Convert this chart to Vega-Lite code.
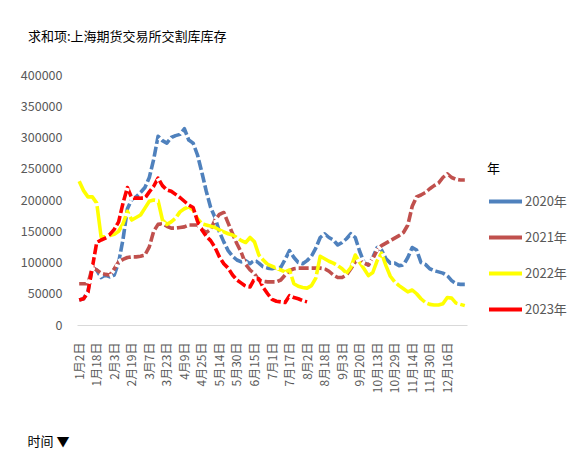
{
  "$schema": "https://vega.github.io/schema/vega-lite/v6.json",
  "autosize": {"type": "none"},
  "width": 390,
  "height": 250,
  "padding": {"left": 77, "top": 75, "right": 107, "bottom": 146},
  "background": "#ffffff",
  "config": {
    "font": "Noto Sans CJK SC",
    "view": {"stroke": null}
  },
  "title": {
    "text": "求和项:上海期货交易所交割库库存",
    "anchor": "start",
    "frame": "group",
    "dx": -49,
    "offset": 12,
    "baseline": "bottom",
    "fontSize": 13,
    "fontWeight": "normal",
    "color": "#000000"
  },
  "data": {
    "values": [
      {"d": "1月2日", "2020年": 40000, "2021年": 66000, "2022年": 230000, "2023年": 40000},
      {"d": "1月6日", "2020年": 42000, "2021年": 66000, "2022年": 215000, "2023年": 42000},
      {"d": "1月10日", "2020年": 54000, "2021年": 66000, "2022年": 205000, "2023年": 52000},
      {"d": "1月14日", "2020年": 92000, "2021年": 92000, "2022年": 205000, "2023年": 92000},
      {"d": "1月18日", "2020年": 88000, "2021年": 88000, "2022年": 195000, "2023年": 132000},
      {"d": "1月22日", "2020年": 76000, "2021年": 83000, "2022年": 141000, "2023年": 136000},
      {"d": "1月26日", "2020年": 80000, "2021年": 81000, "2022年": 141000, "2023年": 139000},
      {"d": "1月30日", "2020年": 77000, "2021年": 80000, "2022年": 143000, "2023年": 145000},
      {"d": "2月3日", "2020年": 80000, "2021年": 90000, "2022年": 145000, "2023年": 153000},
      {"d": "2月7日", "2020年": 100000, "2021年": 101000, "2022年": 150000, "2023年": 165000},
      {"d": "2月11日", "2020年": 137000, "2021年": 105000, "2022年": 162000, "2023年": 195000},
      {"d": "2月15日", "2020年": 186000, "2021年": 108000, "2022年": 182000, "2023年": 220000},
      {"d": "2月19日", "2020年": 201000, "2021年": 109000, "2022年": 168000, "2023年": 203000},
      {"d": "2月23日", "2020年": 205000, "2021年": 109000, "2022年": 172000, "2023年": 203000},
      {"d": "2月27日", "2020年": 212000, "2021年": 110000, "2022年": 176000, "2023年": 203000},
      {"d": "3月3日", "2020年": 220000, "2021年": 112000, "2022年": 187000, "2023年": 203000},
      {"d": "3月7日", "2020年": 236000, "2021年": 125000, "2022年": 198000, "2023年": 213000},
      {"d": "3月11日", "2020年": 265000, "2021年": 150000, "2022年": 200000, "2023年": 222000},
      {"d": "3月15日", "2020年": 302000, "2021年": 161000, "2022年": 199000, "2023年": 235000},
      {"d": "3月19日", "2020年": 295000, "2021年": 162000, "2022年": 168000, "2023年": 223000},
      {"d": "3月23日", "2020年": 291000, "2021年": 158000, "2022年": 161000, "2023年": 216000},
      {"d": "3月27日", "2020年": 300000, "2021年": 155000, "2022年": 165000, "2023年": 214000},
      {"d": "3月31日", "2020年": 303000, "2021年": 155000, "2022年": 171000, "2023年": 209000},
      {"d": "4月5日", "2020年": 305000, "2021年": 156000, "2022年": 181000, "2023年": 204000},
      {"d": "4月9日", "2020年": 314000, "2021年": 157000, "2022年": 186000, "2023年": 198000},
      {"d": "4月13日", "2020年": 296000, "2021年": 160000, "2022年": 189000, "2023年": 192000},
      {"d": "4月17日", "2020年": 291000, "2021年": 160000, "2022年": 184000, "2023年": 188000},
      {"d": "4月21日", "2020年": 272000, "2021年": 160000, "2022年": 170000, "2023年": 166000},
      {"d": "4月25日", "2020年": 244000, "2021年": 153000, "2022年": 162000, "2023年": 152000},
      {"d": "4月29日", "2020年": 214000, "2021年": 148000, "2022年": 160000, "2023年": 142000},
      {"d": "5月5日", "2020年": 188000, "2021年": 153000, "2022年": 158000, "2023年": 135000},
      {"d": "5月9日", "2020年": 172000, "2021年": 168000, "2022年": 156000, "2023年": 124000},
      {"d": "5月14日", "2020年": 149000, "2021年": 177000, "2022年": 152000, "2023年": 109000},
      {"d": "5月18日", "2020年": 133000, "2021年": 180000, "2022年": 149000, "2023年": 98000},
      {"d": "5月22日", "2020年": 119000, "2021年": 163000, "2022年": 146000, "2023年": 91000},
      {"d": "5月26日", "2020年": 110000, "2021年": 146000, "2022年": 144000, "2023年": 80000},
      {"d": "5月30日", "2020年": 104000, "2021年": 130000, "2022年": 140000, "2023年": 72000},
      {"d": "6月3日", "2020年": 101000, "2021年": 116000, "2022年": 135000, "2023年": 67000},
      {"d": "6月7日", "2020年": 103000, "2021年": 97000, "2022年": 132000, "2023年": 62000},
      {"d": "6月11日", "2020年": 98000, "2021年": 88000, "2022年": 140000, "2023年": 61000},
      {"d": "6月15日", "2020年": 104000, "2021年": 82000, "2022年": 133000, "2023年": 74000},
      {"d": "6月19日", "2020年": 99000, "2021年": 72000, "2022年": 112000, "2023年": 74000},
      {"d": "6月23日", "2020年": 93000, "2021年": 70000, "2022年": 104000, "2023年": 60000},
      {"d": "6月27日", "2020年": 91000, "2021年": 69000, "2022年": 97000, "2023年": 50000},
      {"d": "7月1日", "2020年": 90000, "2021年": 69000, "2022年": 94000, "2023年": 41000},
      {"d": "7月5日", "2020年": 92000, "2021年": 69000, "2022年": 91000, "2023年": 38000},
      {"d": "7月9日", "2020年": 92000, "2021年": 72000, "2022年": 88000, "2023年": 37000},
      {"d": "7月13日", "2020年": 105000, "2021年": 80000, "2022年": 85000, "2023年": 36000},
      {"d": "7月17日", "2020年": 119000, "2021年": 87000, "2022年": 88000, "2023年": 47000},
      {"d": "7月21日", "2020年": 108000, "2021年": 90000, "2022年": 66000, "2023年": 44000},
      {"d": "7月25日", "2020年": 100000, "2021年": 91000, "2022年": 62000, "2023年": 42000},
      {"d": "7月29日", "2020年": 98000, "2021年": 91000, "2022年": 60000, "2023年": 39000},
      {"d": "8月2日", "2020年": 103000, "2021年": 91000, "2022年": 59000, "2023年": 37000},
      {"d": "8月6日", "2020年": 110000, "2021年": 91000, "2022年": 63000, "2023年": null},
      {"d": "8月10日", "2020年": 123000, "2021年": 91000, "2022年": 75000, "2023年": null},
      {"d": "8月14日", "2020年": 140000, "2021年": 91000, "2022年": 110000, "2023年": null},
      {"d": "8月18日", "2020年": 146000, "2021年": 90000, "2022年": 106000, "2023年": null},
      {"d": "8月22日", "2020年": 140000, "2021年": 86000, "2022年": 102000, "2023年": null},
      {"d": "8月26日", "2020年": 136000, "2021年": 80000, "2022年": 99000, "2023年": null},
      {"d": "8月30日", "2020年": 128000, "2021年": 76000, "2022年": 95000, "2023年": null},
      {"d": "9月3日", "2020年": 132000, "2021年": 76000, "2022年": 90000, "2023年": null},
      {"d": "9月7日", "2020年": 138000, "2021年": 80000, "2022年": 83000, "2023年": null},
      {"d": "9月11日", "2020年": 146000, "2021年": 90000, "2022年": 92000, "2023年": null},
      {"d": "9月15日", "2020年": 140000, "2021年": 101000, "2022年": 112000, "2023年": null},
      {"d": "9月20日", "2020年": 118000, "2021年": 104000, "2022年": 100000, "2023年": null},
      {"d": "9月24日", "2020年": 100000, "2021年": 99000, "2022年": 90000, "2023年": null},
      {"d": "9月28日", "2020年": 96000, "2021年": 96000, "2022年": 79000, "2023年": null},
      {"d": "10月9日", "2020年": 108000, "2021年": 106000, "2022年": 84000, "2023年": null},
      {"d": "10月13日", "2020年": 124000, "2021年": 120000, "2022年": 103000, "2023年": null},
      {"d": "10月17日", "2020年": 120000, "2021年": 127000, "2022年": 115000, "2023年": null},
      {"d": "10月21日", "2020年": 106000, "2021年": 131000, "2022年": 95000, "2023年": null},
      {"d": "10月25日", "2020年": 99000, "2021年": 135000, "2022年": 78000, "2023年": null},
      {"d": "10月29日", "2020年": 99000, "2021年": 139000, "2022年": 69000, "2023年": null},
      {"d": "11月2日", "2020年": 95000, "2021年": 143000, "2022年": 63000, "2023年": null},
      {"d": "11月6日", "2020年": 96000, "2021年": 148000, "2022年": 58000, "2023年": null},
      {"d": "11月10日", "2020年": 108000, "2021年": 160000, "2022年": 53000, "2023年": null},
      {"d": "11月14日", "2020年": 124000, "2021年": 190000, "2022年": 56000, "2023年": null},
      {"d": "11月18日", "2020年": 120000, "2021年": 205000, "2022年": 50000, "2023年": null},
      {"d": "11月22日", "2020年": 100000, "2021年": 208000, "2022年": 42000, "2023年": null},
      {"d": "11月26日", "2020年": 97000, "2021年": 212000, "2022年": 36000, "2023年": null},
      {"d": "11月30日", "2020年": 90000, "2021年": 218000, "2022年": 33000, "2023年": null},
      {"d": "12月4日", "2020年": 87000, "2021年": 223000, "2022年": 32000, "2023年": null},
      {"d": "12月8日", "2020年": 85000, "2021年": 227000, "2022年": 32000, "2023年": null},
      {"d": "12月12日", "2020年": 83000, "2021年": 236000, "2022年": 34000, "2023年": null},
      {"d": "12月16日", "2020年": 79000, "2021年": 242000, "2022年": 44000, "2023年": null},
      {"d": "12月20日", "2020年": 71000, "2021年": 236000, "2022年": 43000, "2023年": null},
      {"d": "12月24日", "2020年": 66000, "2021年": 233000, "2022年": 35000, "2023年": null},
      {"d": "12月28日", "2020年": 65000, "2021年": 232000, "2022年": 33000, "2023年": null},
      {"d": "12月31日", "2020年": 65000, "2021年": 232000, "2022年": 31000, "2023年": null}
    ]
  },
  "transform": [
    {"fold": ["2020年", "2021年", "2022年", "2023年"], "as": ["年", "库存"]},
    {"filter": "datum['库存'] != null"}
  ],
  "encoding": {
    "x": {
      "field": "d",
      "type": "ordinal",
      "sort": null,
      "scale": {"type": "point", "padding": 0.5},
      "axis": {
        "values": ["1月2日", "1月18日", "2月3日", "2月19日", "3月7日", "3月23日", "4月9日", "4月25日", "5月14日", "5月30日", "6月15日", "7月1日", "7月17日", "8月2日", "8月18日", "9月3日", "9月20日", "10月13日", "10月29日", "11月14日", "11月30日", "12月16日"],
        "labelAngle": 270,
        "labelAlign": "right",
        "labelBaseline": "middle",
        "labelPadding": 17,
        "labelFontSize": 12,
        "labelColor": "#595959",
        "ticks": false,
        "grid": false,
        "domainColor": "#D9D9D9",
        "domainWidth": 1,
        "title": "时间 ▼",
        "titleAngle": 0,
        "titleAlign": "left",
        "titleBaseline": "middle",
        "titleX": -50,
        "titleY": 116,
        "titleFontSize": 13,
        "titleFontWeight": "normal",
        "titleColor": "#000000"
      }
    },
    "y": {
      "field": "库存",
      "type": "quantitative",
      "scale": {"domain": [0, 400000], "nice": false},
      "axis": {
        "values": [0, 50000, 100000, 150000, 200000, 250000, 300000, 350000, 400000],
        "format": "d",
        "labelFontSize": 12.5,
        "labelColor": "#595959",
        "labelPadding": 15,
        "ticks": false,
        "domain": false,
        "grid": false,
        "title": null
      }
    }
  },
  "layer": [
    {
      "mark": {"type": "line", "strokeWidth": 3.6, "strokeCap": "butt", "strokeJoin": "round"},
      "encoding": {
        "color": {
          "field": "年",
          "type": "nominal",
          "scale": {"domain": ["2020年", "2021年", "2022年", "2023年"], "range": ["#4F81BD", "#C0504D", "#FFFF00", "#FF0000"]},
          "legend": {
            "title": "年",
            "orient": "none",
            "legendX": 410,
            "legendY": 88,
            "symbolType": "stroke",
            "symbolSize": 1089,
            "symbolStrokeWidth": 4,
            "labelFontSize": 13,
            "labelColor": "#595959",
            "labelOffset": 1,
            "titleFontSize": 13,
            "titleFontWeight": "normal",
            "titleColor": "#000000",
            "titlePadding": 7,
            "rowPadding": 9
          }
        }
      }
    },
    {
      "transform": [{"filter": "datum['年'] != '2022年'"}],
      "mark": {"type": "line", "color": "#ffffff", "strokeWidth": 5, "strokeCap": "butt", "strokeDash": [3, 10], "strokeDashOffset": -9},
      "encoding": {"detail": {"field": "年", "type": "nominal"}}
    },
    {
      "transform": [{"filter": "datum['年'] == '2022年'"}],
      "mark": {"type": "line", "color": "#ffffff", "strokeWidth": 5, "strokeCap": "butt", "strokeDash": [3, 36], "strokeDashOffset": -30},
      "encoding": {"detail": {"field": "年", "type": "nominal"}}
    }
  ]
}
